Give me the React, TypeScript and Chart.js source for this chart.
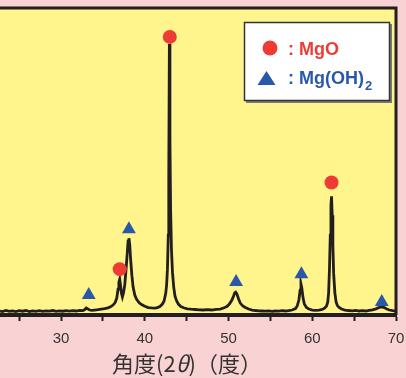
import React, { useEffect, useRef } from "react";
import { Chart, registerables } from "chart.js";
Chart.register(...registerables);

// XRD pattern (2θ in degrees, intensity in arbitrary units)
const twoTheta = [
  22.7, 23.0, 23.4, 23.8, 24.2, 24.6, 25.0, 25.4, 25.8, 26.2, 26.6, 27.0, 27.4, 27.8, 28.2, 28.6, 29.0, 29.4, 29.8,
  30.2, 30.6, 31.0, 31.4, 31.8, 32.2, 32.6, 32.8, 33.0, 33.2, 33.4, 33.7, 34.0, 34.4, 34.8, 35.2, 35.6, 35.9,
  36.2, 36.45, 36.65, 36.8, 36.9, 37.0, 37.1, 37.2, 37.32, 37.45, 37.6, 37.75, 37.9, 38.0, 38.1, 38.2, 38.3,
  38.45, 38.6, 38.8, 39.0, 39.3, 39.6, 40.0, 40.4, 40.8, 41.2, 41.5, 41.8, 42.1, 42.3, 42.5, 42.6, 42.7, 42.8,
  42.86, 42.93, 43.0, 43.08, 43.18, 43.3, 43.45, 43.6, 43.8, 44.0, 44.3, 44.7, 45.1, 45.5, 46.0, 46.5, 47.0,
  47.5, 48.0, 48.5, 49.0, 49.4, 49.8, 50.1, 50.4, 50.6, 50.75, 50.85, 51.0, 51.2, 51.4, 51.7, 52.0, 52.4, 52.8,
  53.2, 53.6, 54.0, 54.4, 54.8, 55.2, 55.6, 56.0, 56.4, 56.8, 57.2, 57.6, 58.0, 58.2, 58.4, 58.55, 58.65, 58.75,
  58.9, 59.05, 59.3, 59.6, 60.0, 60.4, 60.8, 61.2, 61.5, 61.7, 61.85, 61.95, 62.05, 62.15, 62.23, 62.3, 62.38,
  62.46, 62.55, 62.7, 62.85, 63.0, 63.2, 63.5, 63.9, 64.3, 64.8, 65.2, 65.6, 66.0, 66.4, 66.8, 67.2, 67.6, 68.0,
  68.3, 68.6, 68.9, 69.2, 69.6, 70.0,
];
const intensity = [
  4.0, 3.5, 4.5, 3.6, 4.2, 3.4, 4.3, 3.8, 4.5, 3.5, 4.1, 3.7, 4.4, 3.6, 4.2, 3.9, 4.5, 3.7, 4.2,
  3.8, 4.4, 3.9, 4.3, 4.0, 4.6, 4.4, 5.2, 7.0, 6.0, 5.0, 4.6, 4.9, 5.3, 5.8, 6.3, 7.2, 8.2,
  10.0, 12.5, 17, 26, 33, 36, 30, 22, 18, 22, 30, 45, 62, 74, 77, 70, 56,
  40, 28, 20, 16, 12.5, 10.5, 8.8, 7.5, 7.2, 7.0, 7.4, 8.5, 11, 14, 22, 30, 46, 80,
  140, 272, 175, 105, 66, 43, 28, 19, 14, 11, 8.5, 7.0, 6.2, 5.8, 5.5, 5.2, 5.0,
  5.4, 5.0, 5.6, 6.0, 7.0, 8.5, 11, 15, 19, 22.5, 23, 21, 16, 12, 9, 7.5, 6.0, 5.0,
  4.5, 4.2, 4.0, 3.8, 4.2, 3.6, 4.0, 3.8, 4.3, 4.0, 4.5, 5.0, 6.5, 9, 15, 25, 31, 27,
  17, 11, 7.5, 6.0, 5.0, 4.6, 5.0, 5.6, 7.0, 9.0, 13, 22, 45, 80, 110, 119, 100,
  70, 42, 22, 13, 9.5, 7.5, 6.0, 5.0, 4.5, 4.2, 4.6, 4.0, 4.3, 4.0, 4.6, 5.2, 6.2, 7.6,
  8.2, 7.4, 6.0, 5.0, 4.3, 4.0,
];

// Peak markers
const mgoX = [37.0, 42.98, 62.3];
const mgoY = [46, 279, 133];
const mgOH2X = [33.3, 38.1, 50.9, 58.7, 68.3];
const mgOH2Y = [20, 86, 33, 41, 13];

const xTicks = [25, 30, 35, 40, 45, 50, 55, 60, 65, 70];
const xLabeled = [30, 40, 50, 60, 70];
const xMin = 22.7;
const xMax = 70;
const yMax = 308;

const titleParts = ["角度(2", "θ", ")（度）"];
const legendMgO = ": MgO";
const legendMgOH2 = ": Mg(OH)";
const legendSub = "2";

const PINK = "#F9D3D3";
const YELLOW = "#FFF58C";
const RED = "#EE3B34";
const BLUE = "#2A58A8";
const INK = "#231F20";

const W = 430;
const H = 378;
const AREA_RIGHT = 396;

const decorPlugin = {
  id: "decor",
  beforeDraw(chart: any) {
    const { ctx, chartArea: a } = chart;
    ctx.save();
    ctx.fillStyle = PINK;
    ctx.fillRect(0, 0, chart.width, chart.height);
    ctx.fillStyle = YELLOW;
    ctx.fillRect(a.left, a.top, a.right - a.left, a.bottom - a.top);
    ctx.restore();
  },
  afterDraw(chart: any) {
    const { ctx, chartArea: a } = chart;
    ctx.save();
    // frame top & right
    ctx.strokeStyle = INK;
    ctx.lineWidth = 3;
    ctx.beginPath();
    ctx.moveTo(a.left, a.top);
    ctx.lineTo(a.right, a.top);
    ctx.lineTo(a.right, a.bottom);
    ctx.stroke();

    // legend box
    ctx.fillStyle = "#FFFFFF";
    ctx.fillRect(244, 22, 146, 79);
    ctx.strokeStyle = "#7a7a7a";
    ctx.lineWidth = 2;
    ctx.beginPath();
    ctx.moveTo(391, 24);
    ctx.lineTo(391, 102);
    ctx.lineTo(246, 102);
    ctx.stroke();
    ctx.strokeStyle = "#333333";
    ctx.lineWidth = 1.5;
    ctx.strokeRect(244.5, 22.5, 145, 78);

    // legend symbols
    ctx.fillStyle = RED;
    ctx.beginPath();
    ctx.arc(270, 48, 7.5, 0, Math.PI * 2);
    ctx.fill();
    ctx.fillStyle = BLUE;
    ctx.beginPath();
    ctx.moveTo(266.5, 71);
    ctx.lineTo(275.5, 85);
    ctx.lineTo(257.5, 85);
    ctx.closePath();
    ctx.fill();

    // legend text
    ctx.textBaseline = "alphabetic";
    ctx.textAlign = "left";
    ctx.font = "bold 18px 'Liberation Sans', Arial, sans-serif";
    ctx.fillStyle = RED;
    ctx.fillText(legendMgO, 288, 55);
    ctx.fillStyle = BLUE;
    ctx.fillText(legendMgOH2, 288, 84);
    const w = ctx.measureText(legendMgOH2).width;
    ctx.font = "bold 13px 'Liberation Sans', Arial, sans-serif";
    ctx.fillText(legendSub, 288 + w + 1, 90);

    // axis title
    ctx.fillStyle = "#333333";
    const fN = "22px 'Noto Sans CJK JP', sans-serif";
    const fI = "italic 22px 'Noto Sans CJK JP', sans-serif";
    const fonts = [fN, fI, fN];
    const widths = titleParts.map((t, i) => {
      ctx.font = fonts[i];
      return ctx.measureText(t).width;
    });
    const total = widths.reduce((s, v) => s + v, 0);
    let x = 187 - total / 2;
    ctx.textBaseline = "middle";
    titleParts.forEach((t, i) => {
      ctx.font = fonts[i];
      ctx.fillText(t, x, 364);
      x += widths[i];
    });
    ctx.restore();
  },
};

export default function App() {
  const ref = useRef<HTMLCanvasElement | null>(null);

  useEffect(() => {
    document.body.style.margin = "0";
    document.body.style.overflow = "hidden";
    const canvas = ref.current;
    if (!canvas) return;
    const chart = new Chart(canvas, {
      type: "line",
      data: {
        datasets: [
          {
            label: "MgO",
            data: mgoX.map((x, i) => ({ x, y: mgoY[i] })),
            showLine: false,
            pointStyle: "circle",
            pointRadius: 7,
            pointBackgroundColor: RED,
            pointBorderWidth: 0,
            borderColor: RED,
            backgroundColor: RED,
          },
          {
            label: "Mg(OH)2",
            data: mgOH2X.map((x, i) => ({ x, y: mgOH2Y[i] })),
            showLine: false,
            pointStyle: "triangle",
            pointRadius: 8,
            pointBackgroundColor: BLUE,
            pointBorderWidth: 0,
            borderColor: BLUE,
            backgroundColor: BLUE,
          },
          {
            label: "XRD",
            data: twoTheta.map((x, i) => ({ x, y: intensity[i] })),
            borderColor: INK,
            borderWidth: 2.8,
            pointRadius: 0,
            tension: 0,
            fill: false,
          },
        ],
      },
      options: {
        responsive: false,
        animation: false,
        events: [],
        layout: { autoPadding: false, padding: { left: 0, right: W - AREA_RIGHT, top: 8, bottom: 0 } },
        plugins: { legend: { display: false }, tooltip: { enabled: false }, title: { display: false } },
        scales: {
          x: {
            type: "linear",
            min: xMin,
            max: xMax,
            afterBuildTicks: (scale: any) => {
              scale.ticks = xTicks.map((v) => ({ value: v }));
            },
            afterFit: (scale: any) => {
              scale.height = 63;
            },
            border: { display: true, color: INK, width: 4 },
            grid: {
              display: true,
              drawOnChartArea: false,
              drawTicks: true,
              tickLength: 6,
              tickWidth: 2,
              tickColor: INK,
              color: INK,
            },
            ticks: {
              autoSkip: false,
              maxRotation: 0,
              padding: 9,
              color: "#333333",
              font: { family: "'Liberation Sans', Arial, sans-serif", size: 15 },
              callback: (v: any) => (xLabeled.includes(Number(v)) ? String(v) : ""),
            },
          },
          y: {
            type: "linear",
            display: false,
            min: 0,
            max: yMax,
          },
        },
      },
      plugins: [decorPlugin],
    });
    return () => chart.destroy();
  }, []);

  return (
    <div style={{ width: 406, height: 378, overflow: "hidden", position: "relative" }}>
      <canvas ref={ref} width={W} height={H} style={{ display: "block" }} />
    </div>
  );
}
